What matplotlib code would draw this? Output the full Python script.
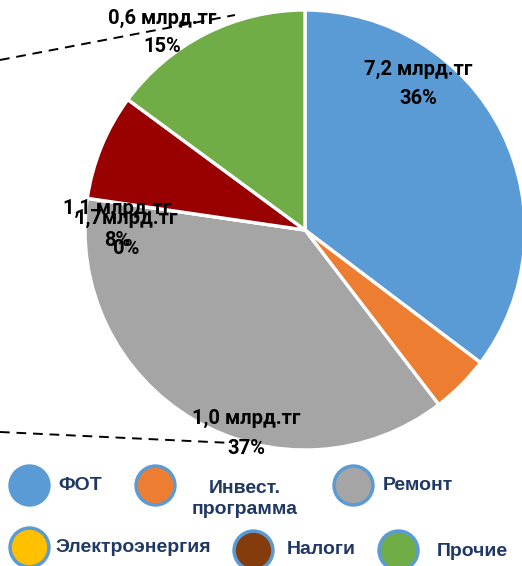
import matplotlib
matplotlib.use("Agg")
import matplotlib.pyplot as plt
from matplotlib.lines import Line2D

# Data
categories = ["ФОТ", "Инвест.\nпрограмма", "Ремонт", "Электроэнергия", "Налоги", "Прочие"]
shares = [35.3, 4.3, 37.7, 0.0, 7.8, 14.9]
amount_labels = ["7,2 млрд.тг", None, "1,0 млрд.тг", "1,7млрд.тг", "1,1 млрд.тг", "0,6 млрд.тг"]
pct_labels = ["36%", None, "37%", "0%", "8%", "15%"]
slice_colors = ["#5B9BD5", "#ED7D31", "#A5A5A5", "#FFC000", "#990000", "#70AD47"]
legend_colors = ["#5B9BD5", "#ED7D31", "#A5A5A5", "#FFC000", "#843C0C", "#70AD47"]

W, H = 522, 566
fig = plt.figure(figsize=(W / 100, H / 100), dpi=100)

def fx(px):
    return px / W

def fy(py):
    return 1 - py / H

# Pie axes: center (305,230), radius 220 px
cx, cy, r = 305, 230, 220
ax = fig.add_axes([fx(cx - r), fy(cy + r), 2 * r / W, 2 * r / H])
ax.pie(shares, colors=slice_colors, startangle=90, counterclock=False,
       wedgeprops=dict(edgecolor="white", linewidth=2.4), radius=1.0)
ax.set_xlim(-1, 1)
ax.set_ylim(-1, 1)
ax.set_aspect("equal")
ax.axis("off")

# Dashed connector lines
overlay = fig.add_axes([0, 0, 1, 1], facecolor="none")
overlay.set_xlim(0, W)
overlay.set_ylim(H, 0)
overlay.axis("off")
overlay.add_line(Line2D([0, 235], [60, 15], color="black", lw=1.4, dashes=(5, 3.5)))
overlay.add_line(Line2D([0, 232], [432, 443], color="black", lw=1.4, dashes=(5, 3.5)))

lab_font = dict(family=["Roboto", "DejaVu Sans"], fontsize=14.5, fontweight="bold", color="black")
label_pos = {0: (418, 69, 98), 2: (246, 418, 448), 3: (126, 218, 248), 4: (117, 208, 240), 5: (162, 18, 47)}
for i, (x, y1, y2) in label_pos.items():
    overlay.text(x, y1, amount_labels[i], ha="center", va="center", **lab_font)
    overlay.text(x, y2, pct_labels[i], ha="center", va="center", **lab_font)

# Legend
leg_font = dict(family=["Liberation Sans", "DejaVu Sans"], fontsize=14, fontweight="bold", color="#203864")
leg_items = [
    (29, 485, 58, 486, "left"),
    (155, 485, 245, 499, "center"),
    (353, 485, 383, 486, "left"),
    (29, 547, 55, 548, "left"),
    (253, 550, 287, 549, "left"),
    (398, 550, 437, 552, "left"),
]
for i, (mx, my, tx, ty, ha) in enumerate(leg_items):
    ec = legend_colors[i] if i == 0 else "#5B9BD5"
    overlay.plot([mx], [my], marker="o", markersize=28, markerfacecolor=legend_colors[i],
                 markeredgecolor=ec, markeredgewidth=2.5, clip_on=False)
    overlay.text(tx, ty, categories[i], ha=ha, va="center", linespacing=1.25, **leg_font)

fig.savefig("out.png", dpi=100)
